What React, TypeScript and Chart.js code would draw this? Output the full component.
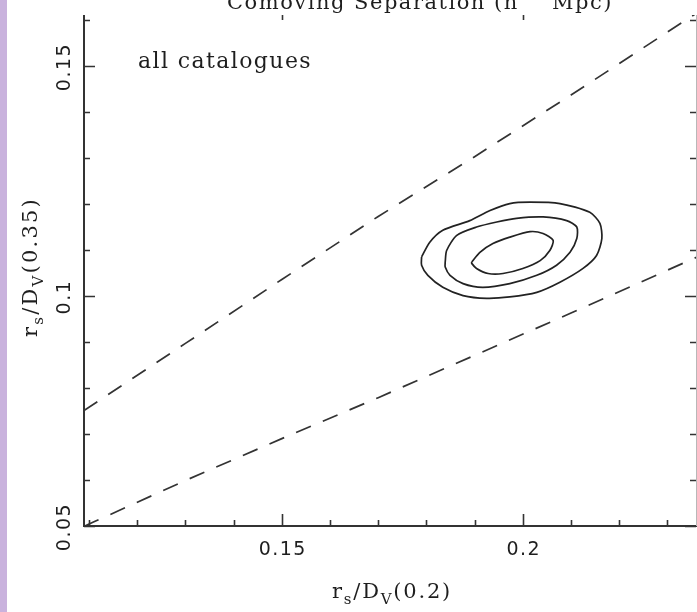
import { useEffect, useRef } from "react";
import { Chart, registerables } from "chart.js";

Chart.register(...registerables);

// Axis ranges of r_s/D_V(0.2) (x) and r_s/D_V(0.35) (y)
const X_MIN = 0.10896;
const X_MAX = 0.23614;
const Y_MIN = 0.05;
const Y_MAX = 0.1611;

// Tick positions and labels
const X_MINOR_TICKS = [0.11, 0.12, 0.13, 0.14, 0.15, 0.16, 0.17, 0.18, 0.19, 0.2, 0.21, 0.22, 0.23];
const X_MAJOR_TICKS = [0.15, 0.2];
const X_TICK_LABELS = ["0.15", "0.2"];
const Y_MINOR_TICKS = [0.05, 0.06, 0.07, 0.08, 0.09, 0.1, 0.11, 0.12, 0.13, 0.14, 0.15, 0.16];
const Y_MAJOR_TICKS = [0.05, 0.1, 0.15];
const Y_TICK_LABELS = ["0.05", "0.1", "0.15"];

// Upper dashed bound
const UPPER_X = [0.10896, 0.13, 0.15, 0.17, 0.19, 0.21, 0.2347, 0.2362];
const UPPER_Y = [0.0751, 0.0897, 0.1036, 0.1173, 0.1303, 0.1437, 0.1606, 0.1616];

// Lower dashed bound
const LOWER_X = [0.10896, 0.1108, 0.13, 0.15, 0.17, 0.19, 0.21, 0.2362];
const LOWER_Y = [0.0499, 0.0508, 0.0599, 0.069, 0.0779, 0.0871, 0.0963, 0.1085];

// Likelihood contours (outer, middle, inner)
const OUTER_X = [0.179, 0.1807, 0.1834, 0.189, 0.1932, 0.1973, 0.2015, 0.2077, 0.2139, 0.216, 0.2164, 0.2153, 0.2125, 0.2077, 0.2029, 0.1973, 0.1925, 0.1876, 0.1834, 0.1803, 0.179];
const OUTER_Y = [0.1085, 0.1117, 0.1143, 0.1164, 0.1186, 0.1201, 0.1204, 0.1201, 0.1182, 0.1158, 0.1125, 0.1088, 0.106, 0.103, 0.1008, 0.0998, 0.0995, 0.1001, 0.1019, 0.1045, 0.1067];

const MIDDLE_X = [0.1839, 0.1842, 0.1863, 0.1904, 0.1946, 0.1987, 0.2042, 0.2091, 0.2112, 0.2112, 0.2098, 0.207, 0.2029, 0.1973, 0.1917, 0.1876, 0.1849, 0.1839];
const MIDDLE_Y = [0.1074, 0.1099, 0.1132, 0.115, 0.1161, 0.1169, 0.1172, 0.1164, 0.115, 0.1125, 0.1095, 0.1067, 0.1045, 0.1027, 0.1019, 0.1027, 0.1045, 0.1063];

const INNER_X = [0.1894, 0.1911, 0.1938, 0.1973, 0.2015, 0.2042, 0.2063, 0.2056, 0.2036, 0.2, 0.1959, 0.1928, 0.1904, 0.1894];
const INNER_Y = [0.1074, 0.1095, 0.1114, 0.1128, 0.114, 0.1136, 0.1121, 0.1099, 0.1077, 0.106, 0.1049, 0.1049, 0.106, 0.1071];

const ANNOTATION = "all catalogues";

type Seg = { t: string; sub?: boolean; sup?: boolean };

const X_TITLE: Seg[] = [
  { t: "r" }, { t: "s", sub: true }, { t: "/D" }, { t: "V", sub: true }, { t: "(0.2)" },
];
const Y_TITLE: Seg[] = [
  { t: "r" }, { t: "s", sub: true }, { t: "/D" }, { t: "V", sub: true }, { t: "(0.35)" },
];
const TOP_TITLE: Seg[] = [
  { t: "Comoving Separation (h" }, { t: "\u22121", sup: true }, { t: " Mpc)" },
];

const SERIF = '"DejaVu Serif", "Liberation Serif", serif';
const SANS = '"DejaVu Sans", "Liberation Sans", sans-serif';

const pts = (xs: number[], ys: number[]) => xs.map((x, i) => ({ x, y: ys[i] }));
const closed = (xs: number[], ys: number[]) => {
  const p = pts(xs, ys);
  p.push({ ...p[0] });
  return p;
};

// Draws a run of text segments (with sub/superscripts) starting at x,
// spreading the letters so the run is `width` pixels wide.
function drawRich(
  ctx: CanvasRenderingContext2D,
  segs: Seg[],
  x: number,
  y: number,
  size: number,
  width: number
) {
  const fontFor = (s: Seg) => `${s.sub || s.sup ? Math.round(size * 0.7) : size}px ${SERIF}`;
  (ctx as any).letterSpacing = "0px";
  let natural = 0;
  let chars = 0;
  segs.forEach((s) => {
    ctx.font = fontFor(s);
    natural += ctx.measureText(s.t).width;
    chars += s.t.length;
  });
  const spacing = Math.max(0, (width - natural) / chars);
  (ctx as any).letterSpacing = `${spacing}px`;
  ctx.textAlign = "left";
  ctx.textBaseline = "alphabetic";
  let cx = x;
  segs.forEach((s) => {
    ctx.font = fontFor(s);
    const dy = s.sub ? size * 0.3 : s.sup ? -size * 0.42 : 0;
    ctx.fillText(s.t, cx, y + dy);
    cx += ctx.measureText(s.t).width;
  });
  (ctx as any).letterSpacing = "0px";
}

const framePlugin = {
  id: "frame",
  beforeDraw(chart: any) {
    const { ctx, width, height } = chart;
    ctx.save();
    ctx.fillStyle = "#ffffff";
    ctx.fillRect(0, 0, width, height);
    // lavender strip along the left edge
    ctx.fillStyle = "#c9b2dd";
    ctx.fillRect(0, 0, 7, height);
    ctx.restore();
  },
  afterDatasetsDraw(chart: any) {
    const { ctx, chartArea } = chart;
    const xs = chart.scales.x;
    const ys = chart.scales.y;
    const { left, right, top, bottom } = chartArea;
    ctx.save();

    // axes
    ctx.strokeStyle = "#333333";
    ctx.lineWidth = 2;
    ctx.beginPath();
    ctx.moveTo(left, top);
    ctx.lineTo(left, bottom);
    ctx.lineTo(right, bottom);
    ctx.stroke();
    ctx.strokeStyle = "#b8b8b8";
    ctx.lineWidth = 1;
    ctx.beginPath();
    ctx.moveTo(right - 0.5, top);
    ctx.lineTo(right - 0.5, bottom);
    ctx.stroke();

    // ticks
    ctx.strokeStyle = "#333333";
    ctx.lineWidth = 1.6;
    ctx.beginPath();
    X_MINOR_TICKS.forEach((v) => {
      const px = Math.round(xs.getPixelForValue(v)) + 0.5;
      const len = X_MAJOR_TICKS.includes(v) ? 12 : 6;
      ctx.moveTo(px, bottom);
      ctx.lineTo(px, bottom - len);
    });
    X_MAJOR_TICKS.forEach((v) => {
      const px = Math.round(xs.getPixelForValue(v)) + 0.5;
      ctx.moveTo(px, top);
      ctx.lineTo(px, top + 5);
    });
    Y_MINOR_TICKS.forEach((v) => {
      const py = Math.round(ys.getPixelForValue(v)) + 0.5;
      const len = Y_MAJOR_TICKS.includes(v) ? 11 : 6;
      ctx.moveTo(left, py);
      ctx.lineTo(left + len, py);
      ctx.moveTo(right - 1, py);
      ctx.lineTo(right - 1 - len, py);
    });
    ctx.stroke();

    ctx.fillStyle = "#1e1e1e";
    // x tick labels
    ctx.font = `19px ${SANS}`;
    (ctx as any).letterSpacing = "1.5px";
    ctx.textAlign = "center";
    ctx.textBaseline = "alphabetic";
    X_MAJOR_TICKS.forEach((v, i) => {
      ctx.fillText(X_TICK_LABELS[i], xs.getPixelForValue(v) + 1, bottom + 29);
    });
    // y tick labels, rotated
    Y_MAJOR_TICKS.forEach((v, i) => {
      ctx.save();
      ctx.translate(left - 14, ys.getPixelForValue(v) + 1);
      ctx.rotate(-Math.PI / 2);
      ctx.fillText(Y_TICK_LABELS[i], 0, 0);
      ctx.restore();
    });
    (ctx as any).letterSpacing = "0px";

    // axis titles
    drawRich(ctx, X_TITLE, 332, 598, 21, 120);
    ctx.save();
    ctx.translate(37, 337);
    ctx.rotate(-Math.PI / 2);
    drawRich(ctx, Y_TITLE, 0, 0, 21, 140);
    ctx.restore();
    drawRich(ctx, TOP_TITLE, 227, 9, 21, 386);

    // annotation
    drawRich(ctx, [{ t: ANNOTATION }], 138, 68, 22, 174);

    ctx.restore();
  },
};

export default function App() {
  const canvasRef = useRef<HTMLCanvasElement | null>(null);

  useEffect(() => {
    const canvas = canvasRef.current;
    if (!canvas) return;
    const lineStyle = { showLine: true, pointRadius: 0, fill: false };
    const chart = new Chart(canvas, {
      type: "scatter",
      data: {
        datasets: [
          { ...lineStyle, data: pts(UPPER_X, UPPER_Y), borderColor: "#333333", borderWidth: 1.7, borderDash: [16, 13] },
          { ...lineStyle, data: pts(LOWER_X, LOWER_Y), borderColor: "#333333", borderWidth: 1.7, borderDash: [16, 13] },
          { ...lineStyle, data: closed(OUTER_X, OUTER_Y), borderColor: "#222222", borderWidth: 1.7, tension: 0.25 },
          { ...lineStyle, data: closed(MIDDLE_X, MIDDLE_Y), borderColor: "#222222", borderWidth: 1.7, tension: 0.25 },
          { ...lineStyle, data: closed(INNER_X, INNER_Y), borderColor: "#222222", borderWidth: 1.7, tension: 0.25 },
        ],
      },
      options: {
        responsive: false,
        animation: false,
        events: [],
        layout: { padding: { left: 84, right: 0, top: 15, bottom: 86 } },
        plugins: { legend: { display: false }, tooltip: { enabled: false }, title: { display: false } },
        scales: {
          x: { type: "linear", min: X_MIN, max: X_MAX, display: false },
          y: { type: "linear", min: Y_MIN, max: Y_MAX, display: false },
        },
      },
      plugins: [framePlugin],
    });
    return () => chart.destroy();
  }, []);

  return (
    <div style={{ position: "fixed", left: 0, top: 0, width: 697, height: 612 }}>
      <canvas ref={canvasRef} width={697} height={612} style={{ display: "block" }} />
    </div>
  );
}
